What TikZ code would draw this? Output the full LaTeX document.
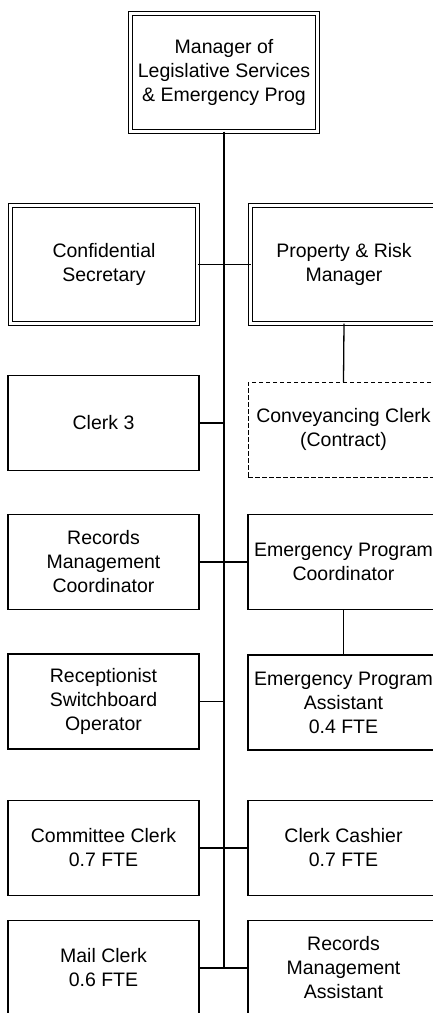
\documentclass[tikz,border=0pt]{standalone}
\usepackage{fontspec}
\setmainfont{Liberation Sans}
\begin{document}
\begin{tikzpicture}[x=1pt,y=-1pt,
  every node/.style={font=\fontsize{19.5}{24}\selectfont, align=center, inner sep=0pt, outer sep=0pt},
  dbox/.style={draw, line width=1.1pt, double, double distance=3.6pt,
               minimum width=187pt, minimum height=118pt},
  sbox/.style={draw, line width=1.3pt, minimum width=191pt, minimum height=95pt},
  cbox/.style={draw, line width=1pt, dash pattern=on 4.5pt off 2.5pt,
               minimum width=191pt, minimum height=95pt},
  trunk/.style={line width=2pt},
  link/.style={line width=1.3pt}]
\clip (0,0) rectangle (433,1013);
\fill[white] (0,0) rectangle (433,1013);

% head of department
\node[dbox] (head) at (224,72.5) {Manager of\\Legislative Services\\\& Emergency Prog};

% left column
\node[dbox] (conf) at (104,264.5) {Confidential\\Secretary};
\node[sbox] (clerk) at (103.5,423) {Clerk 3};
\node[sbox] (rmc) at (103.5,562) {Records\\Management\\Coordinator};
\node[sbox] (recep) at (103.5,701.5) {Receptionist\\Switchboard\\Operator};
\node[sbox] (comm) at (103.5,848) {Committee Clerk\\0.7 FTE};
\node[sbox] (mail) at (103.5,968) {Mail Clerk\\0.6 FTE};

% right column
\node[dbox] (prop) at (344,264.5) {Property \& Risk\\Manager};
\node[cbox] (conv) at (343.5,429.5) {Conveyancing Clerk\\(Contract)};
\node[sbox] (epc) at (343.5,562) {Emergency Program\\Coordinator};
\node[sbox] (epa) at (343.5,702.5) {Emergency Program\\Assistant\\0.4 FTE};
\node[sbox] (cash) at (343.5,848) {Clerk Cashier\\0.7 FTE};
\node[sbox] (rma) at (343.5,968) {Records\\Management\\Assistant};

% reporting lines
\coordinate (trunkend) at (head.south |- mail.east);
\draw[trunk] (head.south) -- (trunkend);
\draw[link] (conf.east) -- (prop.west);
\draw[link] (clerk.east) -- (clerk.east -| head.south);
\draw[link] (rmc.east) -- (epc.west);
\draw[link] (recep.east) -- (recep.east -| head.south);
\draw[link] (comm.east) -- (cash.west);
\draw[link] (mail.east) -- (rma.west);
\draw[link] (prop.south) -- (conv.north);
\draw[link] (epc.south) -- (epa.north);
\end{tikzpicture}
\end{document}
